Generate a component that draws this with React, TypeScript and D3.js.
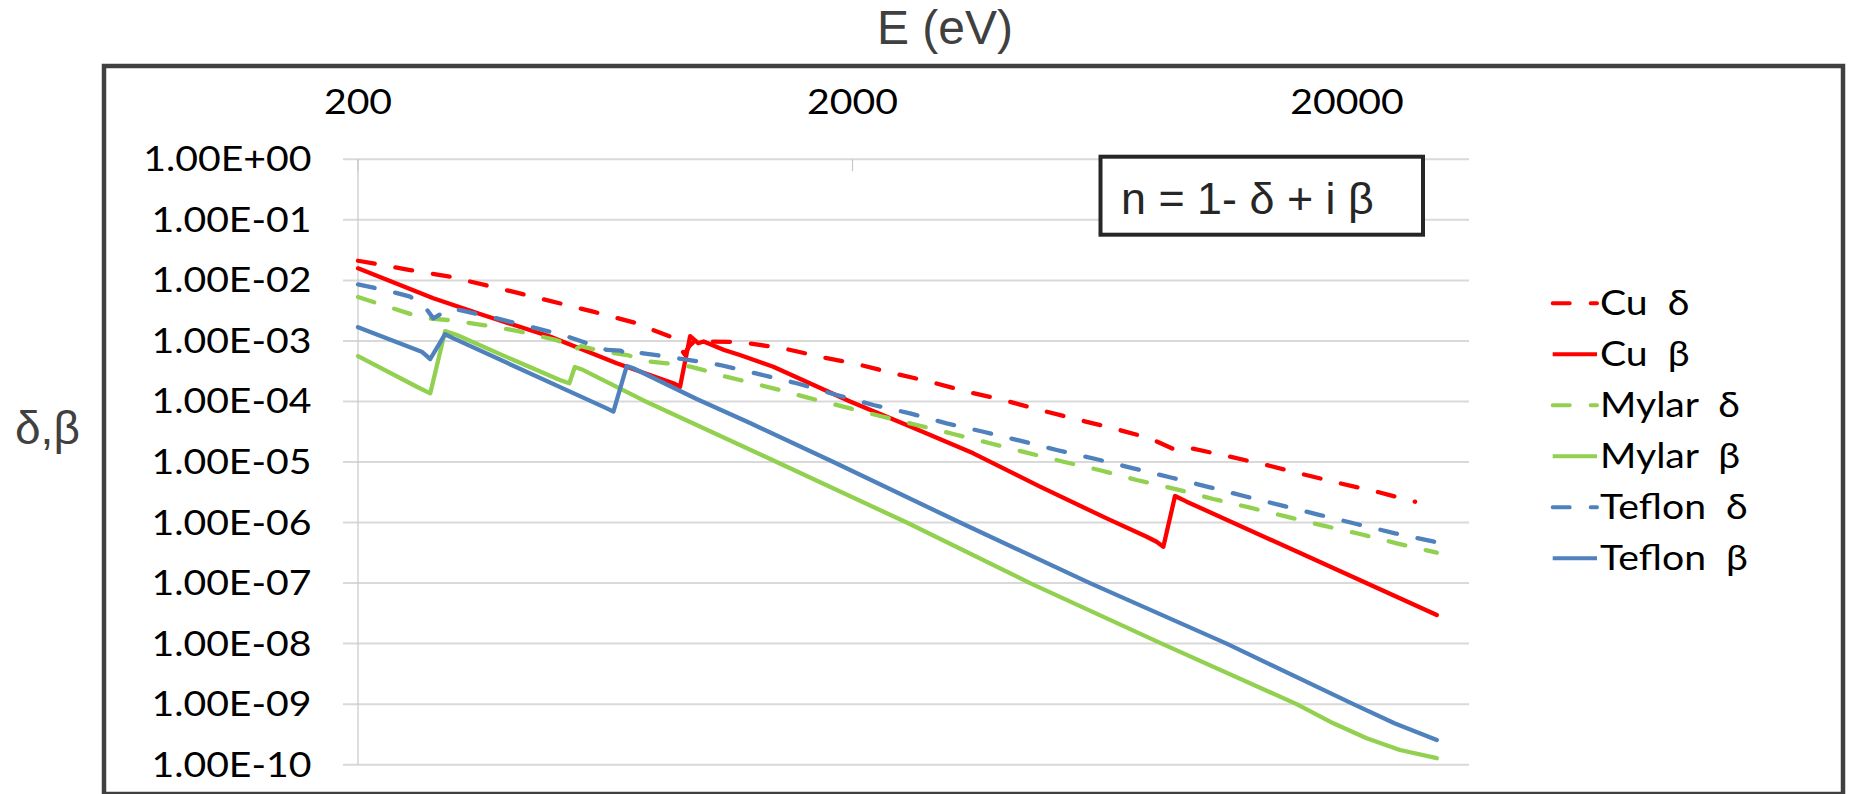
import * as d3 from 'd3';
import { useEffect, useRef } from 'react';

// [photon energy (eV), value]
const cuDelta: [number, number][] = [
  [200, 0.0211], [255, 0.0148], [307, 0.0115], [419, 0.00626], [598, 0.00304],
  [721, 0.00203], [855, 0.00118], [890, 0.00085], [915, 0.0006], [935, 0.00082],
  [960, 0.001], [1000, 0.00098], [1184, 0.00096], [1449, 0.000755], [1719, 0.000548],
  [2039, 0.000416], [2418, 0.000292], [2870, 0.000212], [3404, 0.000145], [4036, 0.000106],
  [4789, 7.23e-5], [5680, 5.07e-5], [6737, 3.6e-5], [7992, 2.46e-5], [8908, 1.64e-5],
  [9480, 1.75e-5], [11420, 1.26e-5], [13760, 8.9e-6], [16320, 6.26e-6], [19360, 4.45e-6],
  [22960, 3.23e-6], [27460, 2.21e-6],
];

const cuBeta: [number, number][] = [
  [200, 0.0158], [284, 0.00506], [358, 0.00268], [489, 0.00118], [667, 0.000427],
  [868, 0.0002], [896, 0.000175], [939, 0.0012], [975, 0.00092], [1000, 0.00098],
  [1100, 0.00071], [1184, 0.000585], [1383, 0.000375], [1978, 0.0001], [2574, 4.08e-5],
  [3510, 1.39e-5], [4789, 3.91e-6], [6532, 1.17e-6], [7870, 5.83e-7], [8240, 4.82e-7],
  [8504, 3.99e-7], [8980, 2.74e-6], [9480, 2.21e-6], [16970, 2.57e-7], [30380, 2.97e-8],
];

const mylarDelta: [number, number][] = [
  [200, 0.0053], [234, 0.0035], [255, 0.0028], [277, 0.00235], [307, 0.0022],
  [358, 0.00183], [419, 0.00147], [504, 0.00103], [530, 0.00088], [545, 0.0007],
  [565, 0.00082], [630, 0.00066], [700, 0.000585], [780, 0.000455], [843, 0.000427],
  [940, 0.000375], [1000, 0.00033], [1081, 0.00027], [1184, 0.000226], [1383, 0.000165],
  [1616, 0.000117], [1916, 8.2e-5], [2274, 5.75e-5], [2698, 4.09e-5], [3198, 2.9e-5],
  [3794, 2.04e-5], [4500, 1.43e-5], [5340, 1.01e-5], [6334, 7.3e-6], [7513, 5.04e-6],
  [9048, 3.54e-6], [10730, 2.45e-6], [12740, 1.76e-6], [15100, 1.25e-6], [17920, 8.87e-7],
  [21250, 6.47e-7], [25210, 4.54e-7], [30380, 3.18e-7],
];

const mylarBeta: [number, number][] = [
  [200, 0.00056], [263, 0.000175], [280, 0.000136], [300, 0.00145], [317, 0.00125],
  [400, 0.00054], [512, 0.000226], [535, 0.0002], [549, 0.00037], [571, 0.00033],
  [754, 1.05e-4], [1405, 1e-5], [2575, 1e-6], [4571, 1e-7], [8440, 1e-8],
  [15820, 1e-9], [18770, 4.83e-10], [21920, 2.73e-10], [25590, 1.75e-10], [30380, 1.28e-10],
];

const teflonDelta: [number, number][] = [
  [200, 0.0086], [234, 0.0065], [255, 0.0054], [274, 0.0035], [284, 0.00236],
  [292, 0.0027], [309, 0.00345], [332, 0.00304], [370, 0.00251], [439, 0.00177],
  [520, 0.00125], [600, 0.00084], [637, 0.00071], [680, 0.00069], [697, 0.0006],
  [715, 0.00066], [755, 0.000625], [910, 0.0005], [1080, 0.0004], [1300, 0.00028],
  [1542, 0.0002], [1858, 0.000128], [2204, 8.74e-5], [2614, 6.37e-5], [3101, 4.35e-5],
  [3678, 3.16e-5], [4363, 2.25e-5], [5176, 1.58e-5], [6236, 1.11e-5], [7396, 7.87e-6],
  [8844, 5.5e-6], [10570, 3.82e-6], [12540, 2.67e-6], [14870, 1.88e-6], [17640, 1.33e-6],
  [20920, 9.46e-7], [25010, 6.64e-7], [30380, 4.72e-7],
];

const teflonBeta: [number, number][] = [
  [200, 0.00168], [269, 0.000664], [280, 0.000503], [300, 0.00129], [312, 0.0011],
  [637, 7.7e-5], [657, 6.8e-5], [699, 0.000385], [721, 0.000353],
  [968, 1.1e-4], [1241, 4.4e-5], [1830, 1e-5], [3300, 1e-6], [6043, 1e-7],
  [11420, 1e-8], [20600, 1e-9], [25010, 4.8e-10], [30380, 2.56e-10],
];

const seriesNames = ['Cu  δ', 'Cu  β', 'Mylar  δ', 'Mylar  β', 'Teflon  δ', 'Teflon  β'];
const seriesData = [cuDelta, cuBeta, mylarDelta, mylarBeta, teflonDelta, teflonBeta];

const energyTicks = [200, 2000, 20000];
const energyTickLabels = ['200', '2000', '20000'];
const yTicks = [1, 1e-1, 1e-2, 1e-3, 1e-4, 1e-5, 1e-6, 1e-7, 1e-8, 1e-9, 1e-10];
const yTickLabels = [
  '1.00E+00', '1.00E-01', '1.00E-02', '1.00E-03', '1.00E-04', '1.00E-05',
  '1.00E-06', '1.00E-07', '1.00E-08', '1.00E-09', '1.00E-10',
];

const titleText = 'E (eV)';
const yTitleText = 'δ,β';
const formulaText = 'n = 1- δ + i β';

// line look per series (same order as seriesNames)
const seriesStyle = [
  { color: '#ff0000', dashed: true },
  { color: '#ff0000', dashed: false },
  { color: '#92d050', dashed: true },
  { color: '#92d050', dashed: false },
  { color: '#4f81bd', dashed: true },
  { color: '#4f81bd', dashed: false },
];

const W = 1850;
const H = 794;
const plot = { left: 358, right: 1469, top: 159.3, bottom: 764.7 };
const LABEL_FONT = 'Lato, "Open Sans", sans-serif';
const ARIAL = '"Liberation Sans", Arial, sans-serif';
const SX = 1.12; // the picture is stretched sideways
const LABEL_SIZE = 35;

export default function App() {
  const svgRef = useRef<SVGSVGElement>(null);

  useEffect(() => {
    const svg = d3.select(svgRef.current);
    svg.selectAll('*').remove();

    const x = d3.scaleLog().domain([200, 20000]).range([358, 1347]);
    const y = d3.scaleLog().domain([1, 1e-10]).range([plot.top, plot.bottom]);

    const stretched = (
      parent: any, px: number, py: number, str: string,
      anchor: string, size: number, family: string, sx: number, fill: string,
    ) => {
      parent.append('g')
        .attr('transform', `translate(${px},${py}) scale(${sx},1)`)
        .append('text')
        .attr('text-anchor', anchor)
        .attr('font-family', family)
        .attr('font-size', size)
        .attr('fill', fill)
        .style('white-space', 'pre')
        .text(str);
    };

    svg.append('rect').attr('width', W).attr('height', H).attr('fill', '#fff');

    // outer frame
    svg.append('rect')
      .attr('x', 104).attr('y', 66).attr('width', 1739).attr('height', 728)
      .attr('fill', 'none').attr('stroke', '#404040').attr('stroke-width', 4.5);

    // titles
    svg.append('text')
      .attr('x', 945).attr('y', 44).attr('text-anchor', 'middle')
      .attr('font-family', ARIAL).attr('font-size', 48).attr('fill', '#404040')
      .text(titleText);
    svg.append('text')
      .attr('x', 15).attr('y', 444)
      .attr('font-family', ARIAL).attr('font-size', 46).attr('fill', '#404040')
      .text(yTitleText);

    // gridlines + y labels
    const grid = svg.append('g');
    yTicks.forEach((v, i) => {
      grid.append('line')
        .attr('x1', plot.left - 15).attr('x2', plot.right)
        .attr('y1', y(v)).attr('y2', y(v))
        .attr('stroke', '#d9d9d9').attr('stroke-width', 2);
      stretched(grid, 311.5, y(v) + 12, yTickLabels[i], 'end', LABEL_SIZE, LABEL_FONT, SX, '#000');
    });

    // vertical axis
    svg.append('line')
      .attr('x1', plot.left).attr('x2', plot.left)
      .attr('y1', plot.top).attr('y2', plot.bottom)
      .attr('stroke', '#c8c8c8').attr('stroke-width', 1.2);

    // energy axis along the top
    energyTicks.forEach((e, i) => {
      svg.append('line')
        .attr('x1', x(e)).attr('x2', x(e))
        .attr('y1', plot.top).attr('y2', plot.top + 12)
        .attr('stroke', '#c8c8c8').attr('stroke-width', 1.2);
      stretched(svg, x(e), 114, energyTickLabels[i], 'middle', LABEL_SIZE, LABEL_FONT, SX, '#000');
    });

    // data
    const line = d3.line<[number, number]>()
      .x(d => x(d[0]))
      .y(d => y(d[1]));

    seriesData.forEach((data, i) => {
      const st = seriesStyle[i];
      svg.append('path')
        .attr('d', line(data))
        .attr('fill', 'none')
        .attr('stroke', st.color)
        .attr('stroke-width', 4.3)
        .attr('stroke-linejoin', 'round')
        .attr('stroke-linecap', 'round')
        .attr('stroke-dasharray', st.dashed ? '17,21' : null);
    });

    // formula box
    svg.append('rect')
      .attr('x', 1100.5).attr('y', 156.7).attr('width', 322.5).attr('height', 78)
      .attr('fill', '#fff').attr('stroke', '#262626').attr('stroke-width', 4);
    stretched(svg, 1121, 214, formulaText, 'start', 44, ARIAL, 1.02, '#262626');

    // legend
    const legend = svg.append('g');
    seriesNames.forEach((name, i) => {
      const st = seriesStyle[i];
      const ly = 303.3 + i * 51;
      legend.append('line')
        .attr('x1', 1552.7).attr('x2', 1597)
        .attr('y1', ly).attr('y2', ly)
        .attr('stroke', st.color).attr('stroke-width', 4)
        .attr('stroke-linecap', st.dashed ? 'round' : 'butt')
        .attr('stroke-dasharray', st.dashed ? '17,21' : null);
      stretched(legend, 1600, ly + 12, name, 'start', LABEL_SIZE, LABEL_FONT, SX, '#000');
    });
  }, []);

  return (
    <svg
      ref={svgRef}
      width={W}
      height={H}
      style={{ position: 'absolute', left: 0, top: 0 }}
    />
  );
}
